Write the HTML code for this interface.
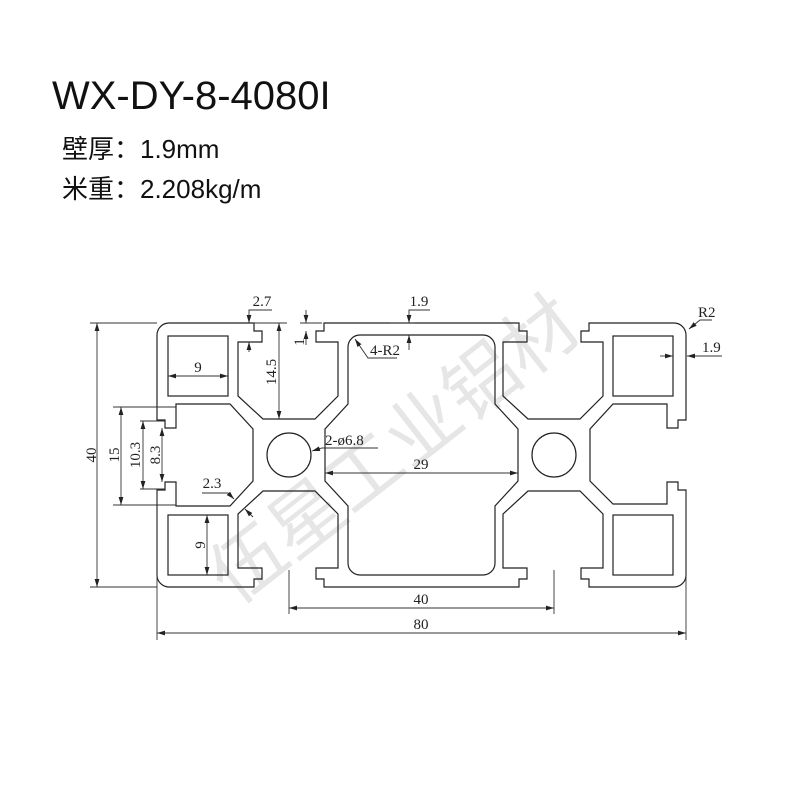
<!DOCTYPE html>
<html><head><meta charset="utf-8"><style>
html,body{margin:0;padding:0;background:#fff;}
svg{display:block;}
.t{font-family:"Liberation Sans","Noto Sans CJK SC",sans-serif;fill:#111;}
.d{font-family:"Liberation Serif",serif;font-size:15px;fill:#222;}
</style></head><body>
<svg width="800" height="800" viewBox="0 0 800 800" xmlns="http://www.w3.org/2000/svg">
<defs>
<marker id="a" viewBox="0 0 10 10" refX="10" refY="5" markerWidth="8" markerHeight="8" orient="auto-start-reverse" markerUnits="userSpaceOnUse"><path d="M0,2 L10,5 L0,8 Z" fill="#222"/></marker>
</defs>
<rect width="800" height="800" fill="#fff"/>
<text class="t" x="52" y="109" font-size="40">WX-DY-8-4080I</text>
<text class="t" x="62" y="158" font-size="26">壁厚：1.9mm</text>
<text class="t" x="62" y="198" font-size="26">米重：2.208kg/m</text>

<!-- watermark -->
<text x="410" y="470" font-family="'Noto Sans CJK SC',sans-serif" font-size="74" fill="#e6e6e6" text-anchor="middle" transform="rotate(-38 410 470)">伍星工业铝材</text>

<g fill="none" stroke="#222" stroke-width="1.2">
<path d="M169 323 H254 V331 H262 V342 H238 V396 L263 419 H315 L338 396 V342 H316 V331 H324 V323
H519 V331 H527 V342 H503 V396 L528 419 H580 L603 396 V342 H581 V331 H589 V323
H674 A12 12 0 0 1 686 335
V420 H678 V428 H667 V404 H613 L590 429 V481 L613 504 H667 V482 H678 V490 H686
V575 A12 12 0 0 1 674 587
H589 V579 H581 V568 H603 V514 L580 491 H528 L503 514 V568 H527 V579 H519 V587
H324 V579 H316 V568 H338 V514 L315 491 H263 L238 514 V568 H262 V579 H254 V587
H169 A12 12 0 0 1 157 575
V490 H165 V482 H176 V506 H230 L253 481 V429 L230 404 H176 V428 H165 V420 H157
V335 A12 12 0 0 1 169 323 Z"/>
<path d="M360 335 H483 A12 12 0 0 1 495 347 V404 L518 429 V481 L495 506 V563 A12 12 0 0 1 483 575 H360 A12 12 0 0 1 348 563 V506 L325 481 V429 L348 404 V347 A12 12 0 0 1 360 335 Z"/>
<rect x="168" y="336" width="60" height="60"/>
<rect x="168" y="515" width="60" height="60"/>
<rect x="613" y="336" width="60" height="60"/>
<rect x="613" y="515" width="60" height="60"/>
<circle cx="289" cy="455" r="22"/>
<circle cx="554" cy="455" r="22"/>
</g>

<g fill="none" stroke="#333" stroke-width="0.9">
<line x1="90" y1="323" x2="157" y2="323"/><line x1="90" y1="587" x2="157" y2="587"/>
<line x1="97" y1="323" x2="97" y2="587" marker-start="url(#a)" marker-end="url(#a)"/>
<line x1="113" y1="407" x2="176" y2="407"/><line x1="113" y1="505" x2="176" y2="505"/>
<line x1="121" y1="407" x2="121" y2="505" marker-start="url(#a)" marker-end="url(#a)"/>
<line x1="140" y1="421" x2="165" y2="421"/><line x1="140" y1="489" x2="165" y2="489"/>
<line x1="143" y1="421" x2="143" y2="489" marker-start="url(#a)" marker-end="url(#a)"/>
<line x1="162" y1="428" x2="162" y2="482" marker-start="url(#a)" marker-end="url(#a)"/>
<line x1="168" y1="376" x2="228" y2="376" marker-start="url(#a)" marker-end="url(#a)"/>
<line x1="207" y1="515" x2="207" y2="575" marker-start="url(#a)" marker-end="url(#a)"/>
<line x1="253" y1="323" x2="287" y2="323"/>
<line x1="279" y1="323" x2="279" y2="419" marker-start="url(#a)" marker-end="url(#a)"/>
<polyline points="272,310 249,310 249,323" marker-end="url(#a)"/>
<line x1="249" y1="352" x2="249" y2="342" marker-end="url(#a)"/>
<line x1="300" y1="323" x2="322" y2="323"/>
<line x1="306" y1="310" x2="306" y2="323" marker-end="url(#a)"/>
<line x1="306" y1="345" x2="306" y2="331" marker-end="url(#a)"/>
<polyline points="202,493 228,493 234,499" marker-end="url(#a)"/>
<line x1="253" y1="517" x2="245" y2="509" marker-end="url(#a)"/>
<polyline points="378,448 322,448 312,451" marker-end="url(#a)"/>
<line x1="325" y1="473" x2="518" y2="473" marker-start="url(#a)" marker-end="url(#a)"/>
<polyline points="430,310 409,310 409,323" marker-end="url(#a)"/>
<line x1="409" y1="350" x2="409" y2="335" marker-end="url(#a)"/>
<line x1="390" y1="323" x2="415" y2="323"/>
<polyline points="397,358 368,358 355,339" marker-end="url(#a)"/>
<polyline points="712,320 700,320 689,329" marker-end="url(#a)"/>
<polyline points="722,356 700,356 687,356" marker-end="url(#a)"/>
<line x1="660" y1="356" x2="673" y2="356" marker-end="url(#a)"/>
<line x1="289" y1="570" x2="289" y2="614"/><line x1="554" y1="570" x2="554" y2="614"/>
<line x1="289" y1="608" x2="554" y2="608" marker-start="url(#a)" marker-end="url(#a)"/>
<line x1="157" y1="490" x2="157" y2="640"/><line x1="686" y1="490" x2="686" y2="640"/>
<line x1="157" y1="633" x2="686" y2="633" marker-start="url(#a)" marker-end="url(#a)"/>
</g>

<g class="d">
<text transform="translate(96 455) rotate(-90)" text-anchor="middle">40</text>
<text transform="translate(119 455) rotate(-90)" text-anchor="middle">15</text>
<text transform="translate(140 455) rotate(-90)" text-anchor="middle">10.3</text>
<text transform="translate(160 455) rotate(-90)" text-anchor="middle">8.3</text>
<text x="198" y="372" text-anchor="middle">9</text>
<text transform="translate(205 545) rotate(-90)" text-anchor="middle">9</text>
<text transform="translate(276 372) rotate(-90)" text-anchor="middle">14.5</text>
<text x="262" y="306" text-anchor="middle">2.7</text>
<text transform="translate(304 342) rotate(-90)" text-anchor="middle">1</text>
<text x="212" y="488" text-anchor="middle">2.3</text>
<text x="325" y="445">2-ø6.8</text>
<text x="421" y="469" text-anchor="middle">29</text>
<text x="419" y="306" text-anchor="middle">1.9</text>
<text x="370" y="355">4-R2</text>
<text x="698" y="317">R2</text>
<text x="702" y="352">1.9</text>
<text x="421" y="604" text-anchor="middle">40</text>
<text x="421" y="629" text-anchor="middle">80</text>
</g>
</svg>
</body></html>
